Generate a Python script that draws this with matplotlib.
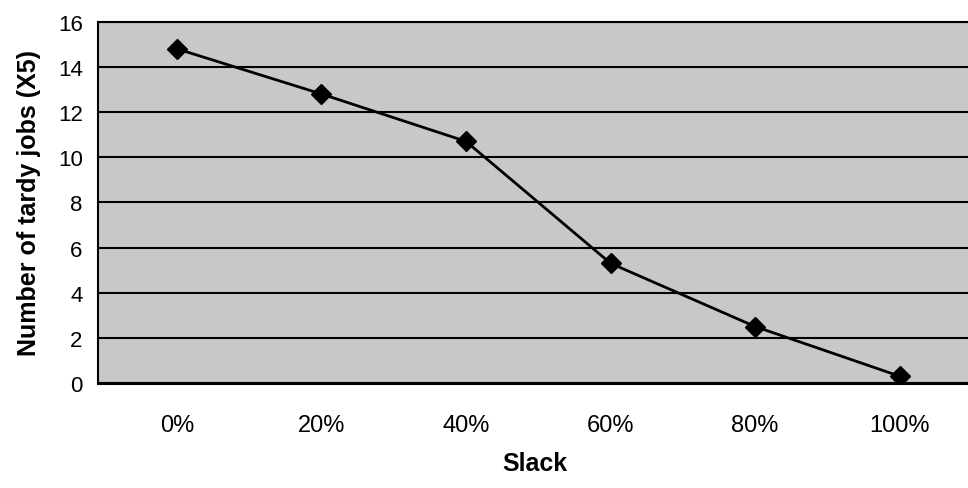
import matplotlib
matplotlib.use("Agg")
import matplotlib.pyplot as plt

# Data
slack_labels = ["0%", "20%", "40%", "60%", "80%", "100%"]
tardy_jobs = [14.8, 12.8, 10.7, 5.3, 2.5, 0.3]
y_ticks = [0, 2, 4, 6, 8, 10, 12, 14, 16]

plt.rcParams["font.family"] = ["Liberation Sans", "DejaVu Sans"]

fig = plt.figure(figsize=(9.68, 4.89), dpi=100)
ax = fig.add_axes([98 / 968, 1 - 384 / 489, (972 - 98) / 968, (384 - 22.7) / 489])

ax.set_facecolor("#c8c8c8")
x = list(range(len(slack_labels)))
ax.plot(x, tardy_jobs, color="black", linewidth=2.0, marker="D",
        markersize=10, markerfacecolor="black", markeredgecolor="black",
        zorder=3)

ax.set_xlim(-0.545, len(slack_labels) - 0.5)
ax.set_ylim(0, 16)
ax.set_yticks(y_ticks)
ax.set_xticks(x)
ax.set_xticklabels(slack_labels)
ax.yaxis.grid(True, color="black", linewidth=1.5)
ax.set_axisbelow(True)

for side in ["top", "left"]:
    ax.spines[side].set_linewidth(1.5)
ax.spines["bottom"].set_linewidth(2.2)
ax.spines["right"].set_visible(False)

ax.tick_params(axis="both", length=0)
ax.tick_params(axis="y", pad=11, labelsize=16)
ax.tick_params(axis="x", pad=22, labelsize=17)

ax.set_xlabel("Slack", fontsize=18, fontweight="bold", labelpad=11)
ax.set_ylabel("Number of tardy jobs (X5)", fontsize=18, fontweight="bold",
              labelpad=12)

fig.savefig("out.png", dpi=100)
